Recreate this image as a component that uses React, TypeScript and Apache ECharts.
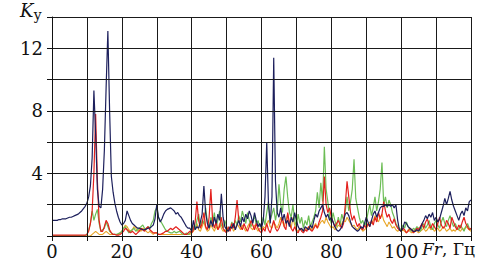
import React, { useEffect, useRef } from "react";
import * as echarts from "echarts";

const FREQ: number[] = Array.from({ length: 241 }, (_, i) => i * 0.5);

const NAVY: number[] = [
  1.0,1.0,1.0,1.0,1.05,1.05,1.1,1.1,1.1,1.15, 1.2,1.2,1.25,1.3,1.35,1.4,1.5,1.6,1.75,1.9,
  2.1,2.5,3.2,5.0,9.3,6.5,3.0,1.9,1.8,3.0, 5.5,9.5,13.1,8.0,3.8,2.8,2.1,1.6,1.2,0.9,
  0.7,0.8,1.0,1.6,1.3,1.0,0.8,0.7,0.6,0.5, 0.5,0.45,0.4,0.4,0.45,0.5,0.5,0.6,0.7,1.1,
  2.0,1.2,0.9,1.1,1.4,1.6,1.7,1.75,1.8,1.7, 1.6,1.4,1.5,1.3,1.2,1.0,0.8,0.6,0.5,0.5,
  0.3,1.0,0.4,0.6,0.5,0.9,1.4,3.2,1.5,0.8, 0.5,1.0,0.6,1.2,0.8,1.4,1.0,2.7,1.2,0.6,
  0.4,0.3,0.6,0.5,0.8,0.4,0.7,1.0,0.6,1.2, 0.9,1.4,1.1,1.6,1.3,0.8,1.5,1.0,0.6,0.8,
  0.5,1.0,2.5,6.0,2.0,0.8,2.5,11.4,3.5,1.5, 1.2,1.8,1.0,1.4,0.8,1.0,0.6,1.2,0.9,1.5,
  1.0,0.6,0.4,0.5,0.3,0.6,0.5,0.4,0.7,0.5, 1.0,1.4,1.2,1.6,1.8,2.0,1.5,1.2,1.4,1.0,
  1.2,0.9,0.6,0.4,0.3,0.4,0.6,1.0,1.4,1.5, 1.3,0.9,0.6,0.5,0.4,0.3,0.4,0.6,0.5,0.8,
  1.2,0.9,0.6,1.0,1.4,1.6,1.2,1.5,1.8,1.9, 1.9,2.0,1.9,2.0,1.9,2.0,1.8,2.0,1.0,0.4,
  0.3,0.5,0.9,0.8,0.6,0.5,0.4,0.3,0.3,0.4, 0.3,0.5,0.8,1.0,1.3,1.1,1.4,1.2,1.5,1.0,
  1.2,0.9,1.1,1.5,1.9,2.4,2.0,2.4,2.85,2.3, 1.9,1.6,1.3,1.0,1.4,1.6,1.3,1.8,1.6,2.2,
  2.3,
];

const RED: number[] = [
  0.05,0.05,0.05,0.05,0.05,0.05,0.05,0.05,0.05,0.05, 0.05,0.05,0.05,0.05,0.05,0.05,0.05,0.05,0.05,0.05,
  0.1,0.3,0.8,1.6,4.0,7.8,3.5,1.0,0.3,0.3, 0.6,1.0,0.8,0.4,0.2,0.1,0.1,0.05,0.05,0.1,
  0.2,0.3,0.5,0.4,0.3,0.2,0.3,0.2,0.1,0.2, 0.3,0.5,0.4,0.3,0.5,0.6,0.4,0.3,0.2,0.2,
  0.2,0.1,0.1,0.15,0.2,0.3,0.3,0.4,0.5,0.4, 0.5,0.6,0.5,0.4,0.3,0.2,0.1,0.1,0.2,0.3,
  0.2,0.4,0.9,2.2,1.0,0.5,0.8,1.5,0.6,0.4, 1.2,3.0,1.0,0.5,0.9,0.4,0.6,1.2,0.5,0.3,
  0.2,0.6,0.3,0.8,0.5,1.2,2.3,1.0,0.6,0.4, 0.8,0.5,0.3,0.6,1.0,0.7,0.4,0.8,0.5,0.3,
  0.2,0.5,0.3,0.8,0.4,0.2,0.6,1.0,0.5,0.3, 0.5,0.8,1.2,0.6,0.4,1.5,0.8,0.5,0.3,0.6,
  0.3,0.2,0.5,0.3,0.2,0.4,0.3,0.6,0.4,0.3, 0.5,0.7,0.5,0.9,1.2,1.6,3.8,2.0,1.5,1.8,
  1.2,0.9,0.6,0.8,1.0,0.7,0.5,0.8,2.0,3.5, 2.5,1.5,1.0,1.3,0.9,0.6,0.8,0.5,0.4,0.7,
  0.5,0.8,0.6,1.0,0.7,1.2,0.9,1.5,1.1,1.4, 2.2,1.6,1.2,1.4,1.0,0.8,1.1,0.7,0.5,0.4,
  0.3,0.5,0.4,0.2,0.3,0.5,0.4,0.2,0.3,0.5, 0.4,0.6,0.8,0.5,0.9,1.1,0.7,0.5,0.8,0.6,
  0.4,0.8,1.2,0.7,0.5,0.6,1.0,0.8,0.5,1.2, 0.9,0.6,0.4,0.7,0.5,0.9,1.2,0.8,0.6,0.4,
  0.5,
];

const GREEN: number[] = [
  0.02,0.02,0.02,0.02,0.02,0.02,0.02,0.02,0.02,0.02, 0.02,0.02,0.02,0.02,0.02,0.02,0.02,0.02,0.02,0.02,
  0.1,0.4,0.8,1.6,1.0,1.4,1.7,0.8,0.3,0.4, 0.5,0.9,0.6,0.3,0.2,0.1,0.1,0.1,0.15,0.2,
  0.3,0.5,0.6,0.4,0.2,0.3,0.4,0.5,0.3,0.4, 0.5,0.6,0.7,0.5,0.4,0.6,0.5,0.8,1.0,1.6,
  1.8,1.2,1.0,0.8,0.6,0.4,0.3,0.25,0.2,0.2, 0.3,0.2,0.25,0.3,0.2,0.1,0.1,0.2,0.1,0.2,
  0.3,0.6,0.4,1.0,1.4,0.6,1.0,0.8,1.8,0.9, 0.5,1.2,0.8,1.5,0.6,1.0,1.6,0.7,0.5,1.0,
  0.6,0.3,0.5,0.9,0.6,1.0,0.7,1.3,0.9,1.6, 1.2,0.8,1.5,1.0,0.6,0.9,1.3,0.7,1.0,0.6,
  0.8,1.2,0.7,1.5,2.2,1.0,1.4,1.8,1.0,1.6, 3.3,2.0,1.5,3.0,3.8,2.5,1.5,1.2,2.0,1.0,
  0.6,1.4,0.8,1.2,0.5,1.0,0.7,1.3,0.6,0.9, 1.2,1.6,2.8,1.8,3.4,2.2,5.7,3.0,2.2,1.2,
  0.8,1.5,1.0,0.6,1.2,0.7,1.4,1.0,1.6,2.5, 1.6,2.2,3.0,4.9,2.4,1.8,1.2,0.8,1.0,0.6,
  0.9,1.5,2.0,1.3,1.8,2.5,1.6,2.2,3.0,4.7, 2.0,2.5,1.8,2.3,2.0,1.5,1.2,0.8,0.6,0.5,
  0.4,0.7,0.5,0.9,0.6,0.4,0.3,0.5,0.4,0.6, 0.5,0.3,0.6,0.8,0.5,0.7,1.0,0.6,0.4,0.8,
  1.0,0.7,0.5,0.9,1.2,0.8,0.6,1.0,1.3,0.9, 0.6,0.8,0.5,0.4,0.7,0.5,0.3,0.6,0.8,0.5,
  0.4,
];

const ORANGE: number[] = [
  0,0,0,0,0,0,0,0,0,0, 0,0,0,0,0,0,0,0,0,0,
  0,0,0,0.1,0.2,0.3,0.2,0.1,0.1,0.1, 0.2,0.3,0.2,0.1,0.1,0.1,0.1,0.1,0.1,0.2,
  0.3,0.5,0.7,0.6,0.4,0.3,0.4,0.6,0.5,0.3, 0.4,0.3,0.5,0.4,0.3,0.2,0.3,0.2,0.1,0.2,
  0.2,0.1,0.1,0.1,0.1,0.1,0.1,0.1,0.1,0.1, 0.1,0.1,0.1,0.1,0.1,0.1,0.1,0.1,0.1,0.1,
  0.2,0.3,0.5,0.8,0.4,0.3,0.6,0.9,0.5,0.3, 0.4,0.7,0.5,0.3,0.6,0.4,0.8,0.5,0.3,0.4,
  0.3,0.5,0.4,0.6,0.3,0.5,0.8,0.6,0.4,0.7, 0.5,0.3,0.6,0.8,0.5,0.4,0.7,0.5,0.3,0.5,
  0.4,0.6,0.5,0.8,1.0,0.6,0.5,0.9,0.7,0.5, 0.8,1.2,0.9,0.6,1.0,1.4,0.8,0.5,1.2,0.7,
  0.4,0.3,0.5,0.4,0.3,0.5,0.4,0.6,0.5,0.4, 0.6,0.8,0.5,0.7,0.9,1.0,0.8,1.2,0.9,0.7,
  0.5,0.6,0.4,0.5,0.7,0.6,0.8,1.0,0.9,1.2, 1.0,0.8,0.6,0.7,0.5,0.4,0.6,0.5,0.3,0.4,
  0.5,0.7,0.9,0.8,1.0,1.3,1.1,0.9,1.2,1.4, 1.0,0.8,0.6,0.9,0.7,0.5,0.6,0.4,0.3,0.4,
  0.3,0.4,0.3,0.2,0.4,0.3,0.2,0.3,0.4,0.3, 0.2,0.3,0.4,0.5,0.3,0.4,0.6,0.4,0.5,0.3,
  0.4,0.5,0.3,0.4,0.6,0.5,0.3,0.4,0.5,0.3, 0.4,0.3,0.5,0.4,0.3,0.5,0.4,0.6,0.5,0.4,
  0.3,
];

const X_LABELS: number[] = [0, 20, 40, 60, 80, 100];
const Y_LABELS: number[] = [4, 8, 12];

const FONT = "DejaVu Serif";

function pairs(ys: number[]) {
  return FREQ.map((f, i) => [f, ys[i]]);
}

export default function App() {
  const ref = useRef<HTMLDivElement>(null);
  useEffect(() => {
    if (!ref.current) return;
    const chart = echarts.init(ref.current, undefined, { renderer: "svg" });
    const line = (name: string, data: number[], color: string, width: number) => ({
      name,
      type: "line",
      data: pairs(data),
      showSymbol: false,
      symbol: "none",
      lineStyle: { color, width },
      z: 2,
    });
    chart.setOption({
      animation: false,
      backgroundColor: "#ffffff",
      grid: { left: 52, right: 19, top: 17, bottom: 27 },
      xAxis: {
        type: "value",
        min: 0,
        max: 120,
        interval: 10,
        z: 4,
        axisLine: { show: true, lineStyle: { color: "#111", width: 1 } },
        axisTick: { show: true, length: 5, lineStyle: { color: "#111" } },
        splitLine: { show: true, lineStyle: { color: "#1a1a1a", width: 1 } },
        axisLabel: {
          color: "#111",
          fontFamily: FONT,
          fontSize: 18,
          margin: 6,
          formatter: (v: number) => (X_LABELS.includes(v) ? String(v) : ""),
        },
      },
      yAxis: {
        type: "value",
        min: 0,
        max: 14,
        interval: 2,
        z: 4,
        axisLine: { show: true, lineStyle: { color: "#111", width: 1 } },
        axisTick: { show: true, length: 5, lineStyle: { color: "#111" } },
        splitLine: { show: true, lineStyle: { color: "#1a1a1a", width: 1 } },
        axisLabel: {
          color: "#111",
          fontFamily: FONT,
          fontSize: 18,
          margin: 9,
          formatter: (v: number) => (Y_LABELS.includes(v) ? String(v) : ""),
        },
      },
      graphic: [
        {
          type: "text",
          left: 20,
          top: 1,
          style: {
            text: "{k|K}{s|у}",
            rich: {
              k: { fontFamily: FONT, fontStyle: "italic", fontSize: 18, fill: "#111" },
              s: { fontFamily: FONT, fontSize: 14, fill: "#111", padding: [10, 0, 0, 0] },
            },
          },
        },
        {
          type: "text",
          left: 422,
          top: 240,
          style: {
            text: "{i|Fr}{n|, Гц}",
            rich: {
              i: { fontFamily: FONT, fontStyle: "italic", fontSize: 17, fill: "#111" },
              n: { fontFamily: FONT, fontSize: 17, fill: "#111" },
            },
          },
        },
      ],
      series: [
        line("o", ORANGE, "#e8a526", 1.1),
        line("g", GREEN, "#6cbd55", 1.2),
        line("r", RED, "#e3201d", 1.2),
        line("n", NAVY, "#1c1f5c", 1.2),
      ],
    });
    return () => chart.dispose();
  }, []);
  return (
    <div
      ref={ref}
      style={{ position: "fixed", left: 0, top: 0, width: 490, height: 263, background: "#fff" }}
    />
  );
}
